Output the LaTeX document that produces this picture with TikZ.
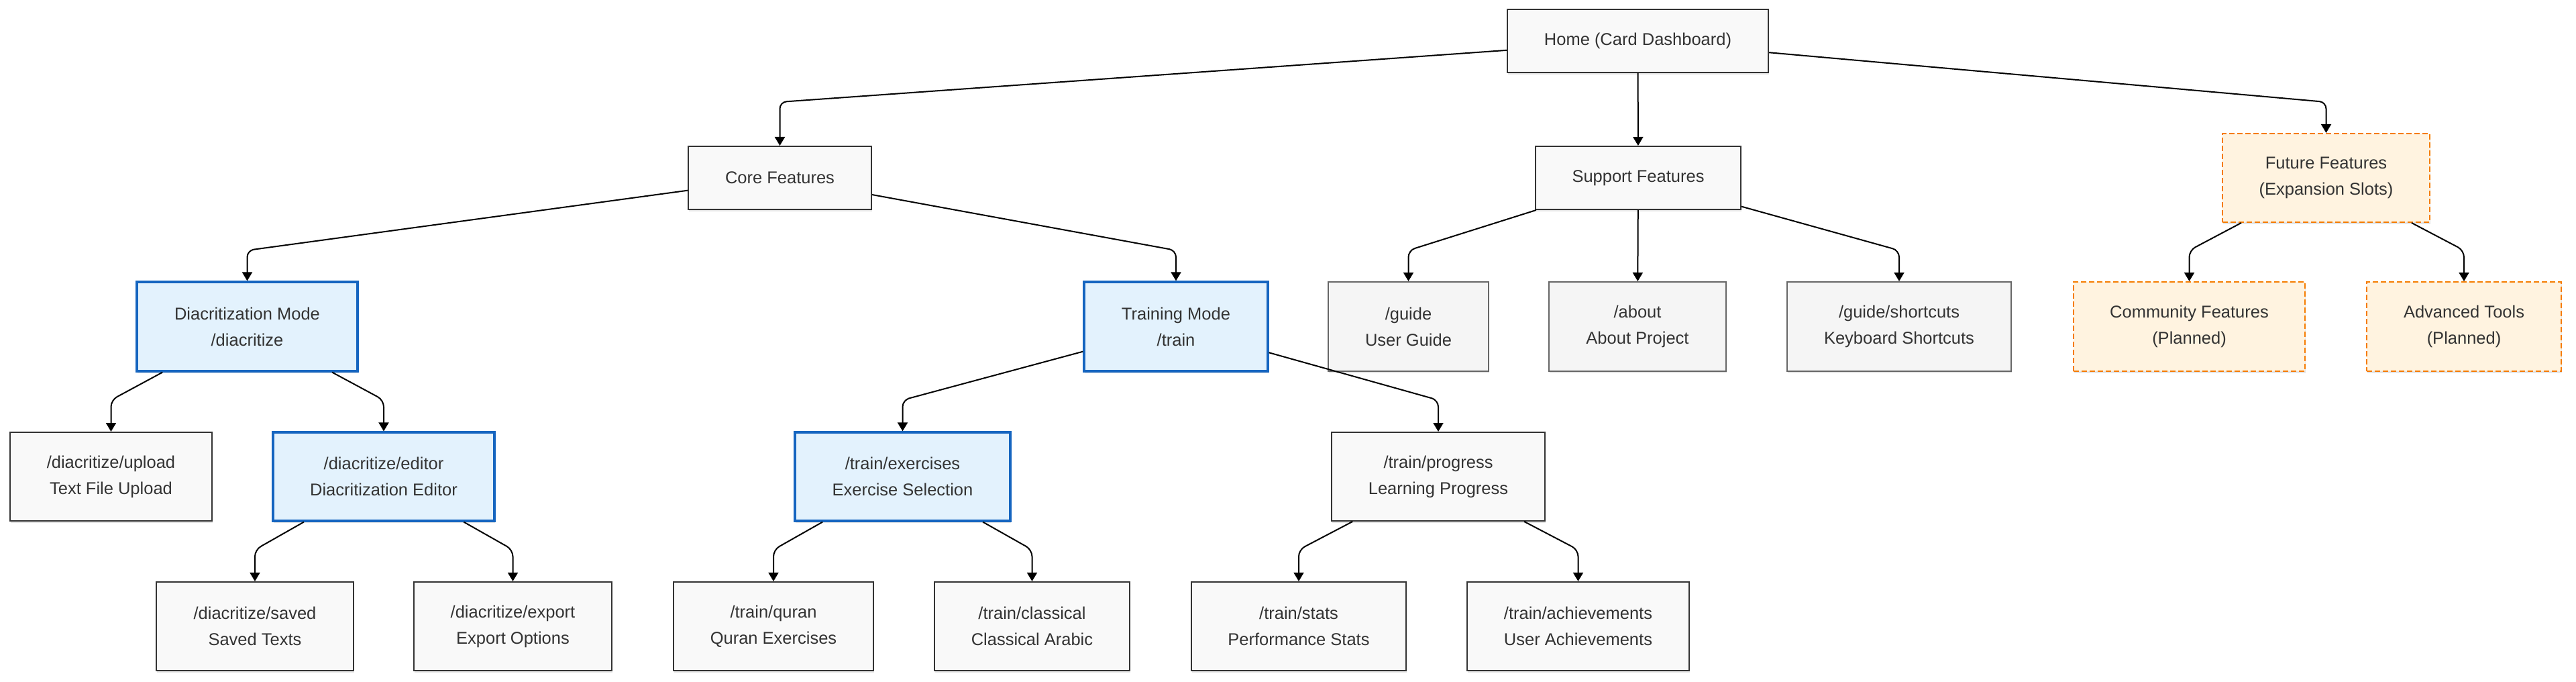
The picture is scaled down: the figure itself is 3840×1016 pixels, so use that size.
\documentclass[tikz,border=0pt]{standalone}
\usepackage{fontspec}
\setmainfont{Liberation Sans}
\usetikzlibrary{arrows.meta,shadows}
\definecolor{txt}{HTML}{333333}
\definecolor{dflt}{HTML}{333333}
\definecolor{dfltfill}{HTML}{F9F9F9}
\definecolor{supline}{HTML}{666666}
\definecolor{supfill}{HTML}{F5F5F5}
\definecolor{blueline}{HTML}{1565C0}
\definecolor{bluefill}{HTML}{E3F2FD}
\definecolor{orline}{HTML}{F57C00}
\definecolor{orfill}{HTML}{FFF3E0}
\tikzset{
  box/.style={rectangle, draw=dflt, fill=dfltfill, line width=1pt, inner sep=0pt,
    align=center, text=txt, font=\fontsize{12.75pt}{19.5pt}\selectfont,
    drop shadow={shadow xshift=0.6pt, shadow yshift=-1.6pt, opacity=0.10, fill=black}},
  supbox/.style={box, draw=supline, fill=supfill},
  bluebox/.style={box, draw=blueline, fill=bluefill, line width=1.6pt},
  orbox/.style={box, draw=orline, fill=orfill, dash pattern=on 4pt off 2pt},
  link/.style={draw=black, line width=1pt, rounded corners=5pt,
    -{Triangle[length=6.5pt,width=7.5pt]}},
}
\begin{document}
\begin{tikzpicture}[x=0.5pt,y=-0.5pt]
\useasboundingbox (0,0) rectangle (3840,1016);
% rank 0
\node[box, minimum width=194.5pt, minimum height=47pt] (home) at (2441.5,61) {Home (Card Dashboard)};
% rank 1
\node[box, minimum width=136.5pt, minimum height=47pt] (core) at (1162.5,265) {Core Features};
\node[box, minimum width=153pt, minimum height=47pt] (support) at (2442,265) {Support Features};
\node[orbox, minimum width=154.5pt, minimum height=66pt] (future) at (3467.5,265) {Future Features\\(Expansion Slots)};
% rank 2
\node[bluebox, minimum width=164.5pt, minimum height=66.5pt] (diac) at (368.5,486.5) {Diacritization Mode\\/diacritize};
\node[bluebox, minimum width=137pt, minimum height=66.5pt] (train) at (1753,486.5) {Training Mode\\/train};
\node[supbox, minimum width=119.5pt, minimum height=66.5pt] (guide) at (2099.5,486.5) {/guide\\User Guide};
\node[supbox, minimum width=132pt, minimum height=66.5pt] (about) at (2441,486.5) {/about\\About Project};
\node[supbox, minimum width=167pt, minimum height=66.5pt] (shortcuts) at (2831,486.5) {/guide/shortcuts\\Keyboard Shortcuts};
\node[orbox, minimum width=172.5pt, minimum height=66.5pt] (community) at (3263.5,486.5) {Community Features\\(Planned)};
\node[orbox, minimum width=145pt, minimum height=66.5pt] (advanced) at (3673,486.5) {Advanced Tools\\(Planned)};
% rank 3
\node[box, minimum width=150.5pt, minimum height=66pt] (upload) at (165.5,710) {/diacritize/upload\\Text File Upload};
\node[bluebox, minimum width=165pt, minimum height=66pt] (editor) at (572,710) {/diacritize/editor\\Diacritization Editor};
\node[bluebox, minimum width=160.5pt, minimum height=66pt] (exercises) at (1345.5,710) {/train/exercises\\Exercise Selection};
\node[box, minimum width=159pt, minimum height=66pt] (progress) at (2144,710) {/train/progress\\Learning Progress};
% rank 4
\node[box, minimum width=147pt, minimum height=66pt] (saved) at (380,933) {/diacritize/saved\\Saved Texts};
\node[box, minimum width=147.5pt, minimum height=66pt] (export) at (764.5,933) {/diacritize/export\\Export Options};
\node[box, minimum width=149pt, minimum height=66pt] (quran) at (1153,933) {/train/quran\\Quran Exercises};
\node[box, minimum width=145.5pt, minimum height=66pt] (classical) at (1538.5,933) {/train/classical\\Classical Arabic};
\node[box, minimum width=160pt, minimum height=66pt] (stats) at (1936,933) {/train/stats\\Performance Stats};
\node[box, minimum width=165.5pt, minimum height=66pt] (achievements) at (2352.5,933) {/train/achievements\\User Achievements};
% bend points
\coordinate (bcore) at (1162.5,152);
\coordinate (bfuture) at (3467.5,152);
\coordinate (bdiac) at (368.5,373);
\coordinate (btrain) at (1753,373);
\coordinate (bguide) at (2099.5,373);
\coordinate (bshortcuts) at (2831,373);
\coordinate (bcommunity) at (3263.5,373);
\coordinate (badvanced) at (3673,373);
\coordinate (bupload) at (165.5,596);
\coordinate (beditor) at (572,596);
\coordinate (bexercises) at (1345.5,596);
\coordinate (bprogress) at (2144,596);
\coordinate (bsaved) at (380,819);
\coordinate (bexport) at (764.5,819);
\coordinate (bquran) at (1153,819);
\coordinate (bclassical) at (1538.5,819);
\coordinate (bstats) at (1936,819);
\coordinate (bachievements) at (2352.5,819);
% connectors
\draw[link] (home) -- (bcore) -- (core.north);
\draw[link] (home) -- (support);
\draw[link] (home) -- (bfuture) -- (future.north);
\draw[link] (core) -- (bdiac) -- (diac.north);
\draw[link] (core) -- (btrain) -- (train.north);
\draw[link] (support) -- (bguide) -- (guide.north);
\draw[link] (support) -- (about);
\draw[link] (support) -- (bshortcuts) -- (shortcuts.north);
\draw[link] (future) -- (bcommunity) -- (community.north);
\draw[link] (future) -- (badvanced) -- (advanced.north);
\draw[link] (diac) -- (bupload) -- (upload.north);
\draw[link] (diac) -- (beditor) -- (editor.north);
\draw[link] (train) -- (bexercises) -- (exercises.north);
\draw[link] (train) -- (bprogress) -- (progress.north);
\draw[link] (editor) -- (bsaved) -- (saved.north);
\draw[link] (editor) -- (bexport) -- (export.north);
\draw[link] (exercises) -- (bquran) -- (quran.north);
\draw[link] (exercises) -- (bclassical) -- (classical.north);
\draw[link] (progress) -- (bstats) -- (stats.north);
\draw[link] (progress) -- (bachievements) -- (achievements.north);
\end{tikzpicture}
\end{document}
